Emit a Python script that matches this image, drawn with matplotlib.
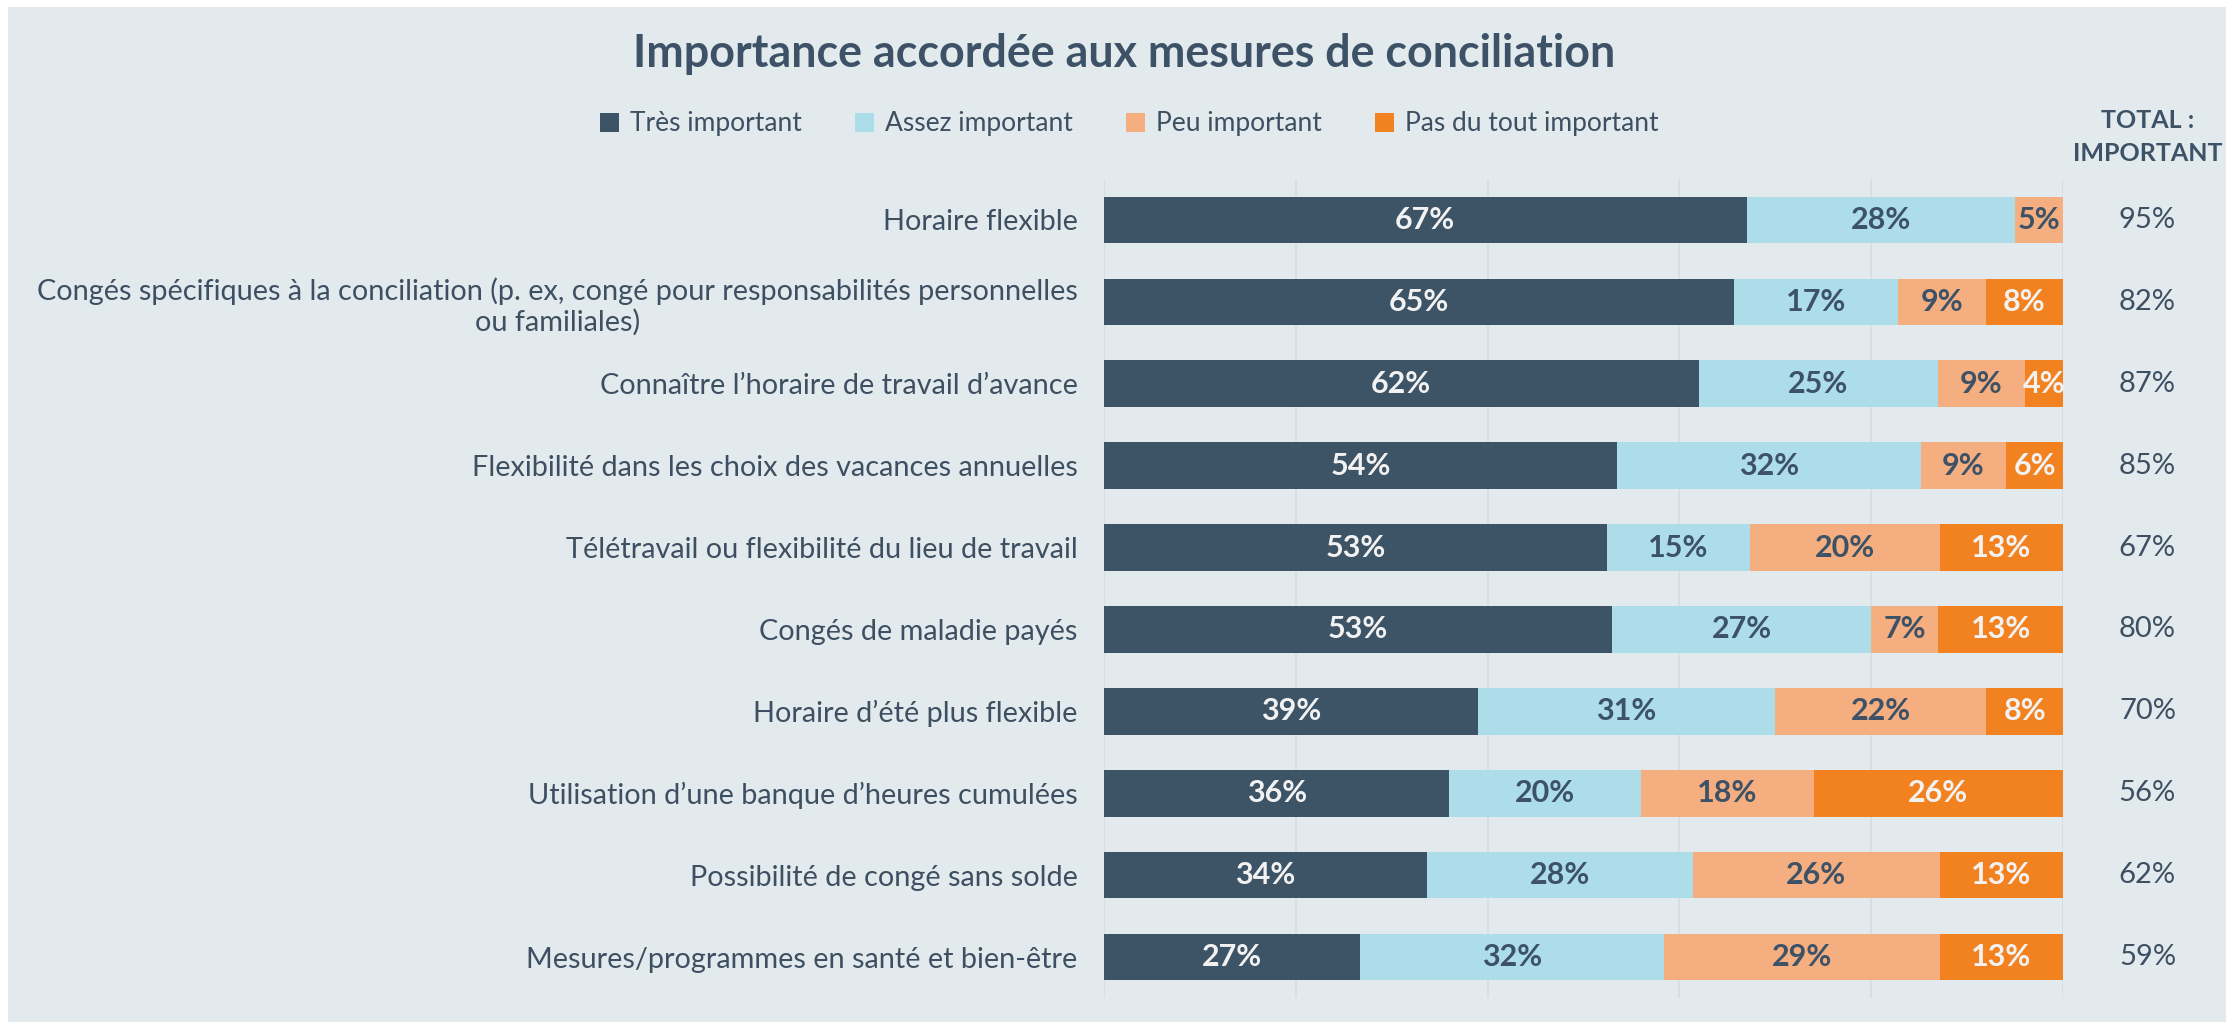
import matplotlib
matplotlib.use('Agg')
import matplotlib.pyplot as plt
from matplotlib.patches import Rectangle, Patch
import numpy as np

plt.rcParams['font.family'] = ['Lato', 'DejaVu Sans']

categories = [
    'Horaire flexible',
    'Congés spécifiques à la conciliation (p. ex, congé pour responsabilités personnelles\nou familiales)',
    'Connaître l’horaire de travail d’avance',
    'Flexibilité dans les choix des vacances annuelles',
    'Télétravail ou flexibilité du lieu de travail',
    'Congés de maladie payés',
    'Horaire d’été plus flexible',
    'Utilisation d’une banque d’heures cumulées',
    'Possibilité de congé sans solde',
    'Mesures/programmes en santé et bien-être',
]
tres_important = [67, 65, 62, 54, 53, 53, 39, 36, 34, 27]
assez_important = [28, 17, 25, 32, 15, 27, 31, 20, 28, 32]
peu_important = [5, 9, 9, 9, 20, 7, 22, 18, 26, 29]
pas_du_tout = [0, 8, 4, 6, 13, 13, 8, 26, 13, 13]
total_important = [95, 82, 87, 85, 67, 80, 70, 56, 62, 59]
series_names = ['Très important', 'Assez important', 'Peu important', 'Pas du tout important']
title = 'Importance accordée aux mesures de conciliation'

colors = ['#3D5366', '#ACDDE9', '#F4AE7F', '#F28220']
label_colors = ['#F2F2F2', '#3D5266', '#3D5266', '#F2F2F2']
text_color = '#3D4F61'
W, H = 2226, 1022

fig = plt.figure(figsize=(W / 100, H / 100), dpi=100)
fig.patch.set_facecolor('white')
fig.patches.append(Rectangle((8 / W, 0), 1 - 8 / W, 1 - 7 / H, transform=fig.transFigure,
                             facecolor='#E2EAEE', edgecolor='none', zorder=-10))

ax = fig.add_axes([1104 / W, 1 - 998 / H, (2063 - 1104) / W, (998 - 179) / H])
ax.set_facecolor('none')

data = np.array([tres_important, assez_important, peu_important, pas_du_tout], dtype=float)
widths = data / data.sum(axis=0) * 100
y = np.arange(len(categories))
left = np.zeros(len(categories))
for i in range(4):
    ax.barh(y, widths[i], left=left, height=0.57, color=colors[i], label=series_names[i], zorder=3)
    for j in range(len(categories)):
        if data[i, j] > 0:
            ax.text(left[j] + widths[i, j] / 2, y[j], f'{int(data[i, j])}%', ha='center', va='center',
                    color=label_colors[i], fontsize=22, fontweight='bold', zorder=4)
    left += widths[i]

for j in range(len(categories)):
    ax.text(108.8, y[j], f'{total_important[j]}%', ha='center', va='center', color=text_color,
            fontsize=21, clip_on=False)

ax.set_xlim(0, 100)
ax.set_ylim(len(categories) - 0.5, -0.5)
ax.set_xticks([0, 20, 40, 60, 80, 100])
ax.set_xticklabels([])
ax.set_axisbelow(True)
ax.xaxis.grid(True, color='#D5DDE2', linewidth=1.2)
for s in ax.spines.values():
    s.set_visible(False)
ax.set_yticks(y)
ax.set_yticklabels(categories, fontsize=20.8, color=text_color, multialignment='center')
ax.tick_params(length=0)
ax.tick_params(axis='y', pad=19)

fig.text(1124 / W, 1 - 54 / H, title, ha='center', va='center', fontsize=32.3, fontweight='bold', color='#3D5266')
fig.text(2148 / W, 1 - 137 / H, 'TOTAL :\nIMPORTANT', ha='center', va='center', fontsize=18,
         fontweight='bold', color='#3D5266', linespacing=1.5)

handles = [Patch(facecolor=c, edgecolor='none') for c in colors]
fig.legend(handles, series_names, loc='center', bbox_to_anchor=(1129 / W, 1 - 124 / H), ncol=4,
           frameon=False, fontsize=19, handlelength=0.75, handleheight=0.75, handletextpad=0.4,
           columnspacing=2.0, labelcolor=text_color)

fig.savefig('out.png', dpi=100)
